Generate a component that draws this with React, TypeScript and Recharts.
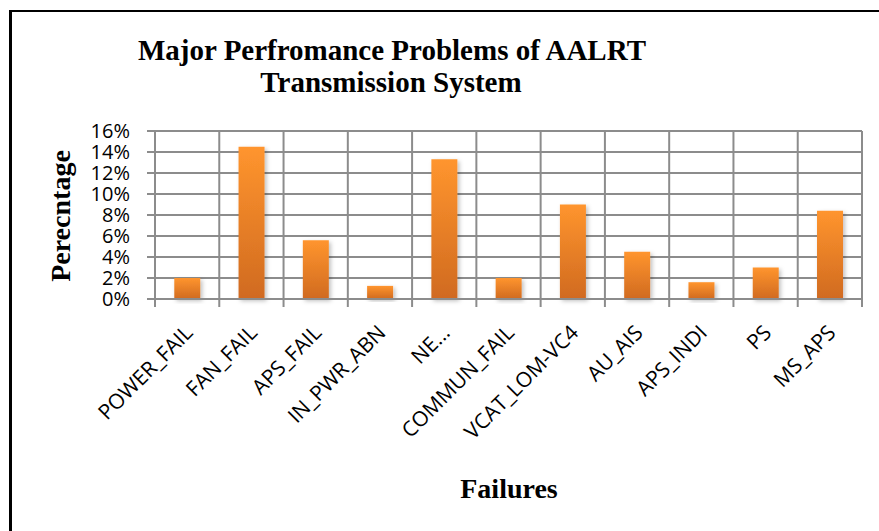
import React from 'react';
import { BarChart, Bar, XAxis, YAxis, CartesianGrid } from 'recharts';

const categories = [
  'POWER_FAIL',
  'FAN_FAIL',
  'APS_FAIL',
  'IN_PWR_ABN',
  'NE...',
  'COMMUN_FAIL',
  'VCAT_LOM-VC4',
  'AU_AIS',
  'APS_INDI',
  'PS',
  'MS_APS',
];
const percentages = [2.0, 14.5, 5.6, 1.25, 13.3, 2.0, 9.0, 4.5, 1.6, 3.0, 8.4];
const yTicks = [0, 2, 4, 6, 8, 10, 12, 14, 16];

const data = categories.map((name, i) => ({ name, value: percentages[i] }));

const GRID = '#8c8c8c';
const serif = '"Liberation Serif", "Times New Roman", serif';
const sans = '"Open Sans", "Noto Sans", sans-serif';

// x tick: rotated label + tick marks on the category boundaries
const XTick = (props: any) => {
  const { x, y, payload, index } = props;
  const half = payload?.offset ?? 32;
  const top = y - 35;
  return (
    <g>
      <line x1={x - half} x2={x - half} y1={top} y2={top + 8} stroke={GRID} strokeWidth={2} />
      {index === categories.length - 1 && (
        <line x1={x + half} x2={x + half} y1={top} y2={top + 8} stroke={GRID} strokeWidth={2} />
      )}
      <text
        x={x + 7}
        y={y}
        textAnchor="end"
        fontFamily={sans}
        fontSize={21}
        fill="#000"
        transform={`rotate(-45, ${x + 7}, ${y})`}
      >
        {payload.value}
      </text>
    </g>
  );
};

export default function App() {
  return (
    <div style={{ position: 'absolute', left: 0, top: 0, width: 879, height: 531, background: '#fff' }}>
      <div
        style={{
          position: 'absolute',
          left: 9,
          top: 10,
          width: 870,
          height: 521,
          borderLeft: '3px solid #000',
          borderTop: '2px solid #000',
        }}
      />
      <div style={{ position: 'absolute', left: 0, top: 0 }}>
        <BarChart
          width={879}
          height={531}
          data={data}
          margin={{ top: 131, right: 17, bottom: 0, left: 0 }}
          barCategoryGap="30%"
        >
          <defs>
            <linearGradient id="barFill" x1="0" y1="0" x2="0" y2="1">
              <stop offset="0%" stopColor="#ff952e" />
              <stop offset="100%" stopColor="#d06a20" />
            </linearGradient>
            <filter id="barShadow" x="-30%" y="-10%" width="160%" height="130%">
              <feDropShadow dx="2" dy="2" stdDeviation="2" floodColor="#000" floodOpacity="0.25" />
            </filter>
          </defs>
          <CartesianGrid
            stroke={GRID}
            strokeWidth={2}
            verticalCoordinatesGenerator={({ offset }: any) =>
              Array.from({ length: categories.length + 1 }, (_, i) => offset.left + (i * offset.width) / categories.length)
            }
          />
          <XAxis
            dataKey="name"
            height={232}
            interval={0}
            axisLine={{ stroke: GRID, strokeWidth: 2 }}
            tickLine={false}
            tickSize={8}
            tickMargin={27}
            tick={<XTick />}
          />
          <YAxis
            width={155}
            domain={[0, 16]}
            ticks={yTicks}
            interval={0}
            tickFormatter={(v: number) => `${v}%`}
            axisLine={{ stroke: GRID, strokeWidth: 2 }}
            tickLine={{ stroke: GRID, strokeWidth: 2 }}
            tickSize={8}
            tickMargin={17}
            tick={{ fill: '#000', fontSize: 20, fontFamily: sans }}
          />
          <Bar
            dataKey="value"
            fill="url(#barFill)"
            filter="url(#barShadow)"
            isAnimationActive={false}
          />
        </BarChart>
      </div>
      <svg
        width={879}
        height={531}
        style={{ position: 'absolute', left: 0, top: 0, pointerEvents: 'none' }}
      >
        <text x={392} y={60} textAnchor="middle" fontFamily={serif} fontWeight="bold" fontSize={29}>
          Major Perfromance Problems of AALRT
        </text>
        <text x={391} y={92} textAnchor="middle" fontFamily={serif} fontWeight="bold" fontSize={29}>
          Transmission System
        </text>
        <text
          x={70}
          y={216}
          textAnchor="middle"
          fontFamily={serif}
          fontWeight="bold"
          fontSize={28}
          transform="rotate(-90, 70, 216)"
        >
          Perecntage
        </text>
        <text x={509} y={498} textAnchor="middle" fontFamily={serif} fontWeight="bold" fontSize={28}>
          Failures
        </text>
      </svg>
    </div>
  );
}
